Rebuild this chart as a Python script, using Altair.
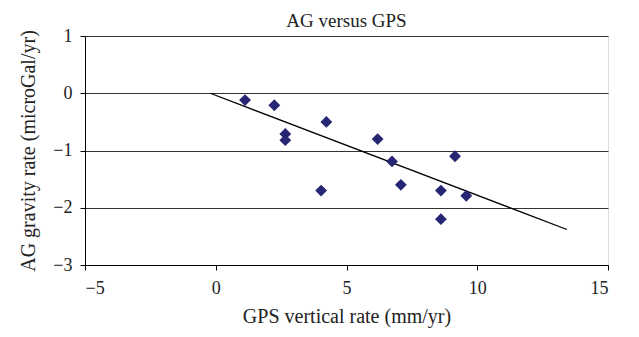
import altair as alt
import pandas as pd

gps_rate = [1.12, 2.24, 2.66, 2.66, 4.23, 4.03, 6.19, 6.74, 7.08, 8.61, 9.15, 9.58, 8.61]
ag_rate = [-0.12, -0.21, -0.71, -0.82, -0.5, -1.7, -0.8, -1.19, -1.6, -1.7, -1.1, -1.79, -2.2]
fit_x = [-0.21, 13.43]
fit_y = [0.0, -2.38]
x_ticks = [-5, 0, 5, 10, 15]
y_ticks = [-3, -2, -1, 0, 1]

pts = pd.DataFrame({"gps": gps_rate, "ag": ag_rate})
fit = pd.DataFrame({"gps": fit_x, "ag": fit_y})

FONT = "Liberation Serif"
xs = alt.Scale(domain=[-5, 15], nice=False, zero=False)
ys = alt.Scale(domain=[-3, 1], nice=False, zero=False)

x_axis = alt.Axis(values=x_ticks, format="d", title="GPS vertical rate (mm/yr)", grid=False,
                  tickSize=5, tickColor="black", domainColor="black",
                  labelFont=FONT, labelFontSize=18, labelColor="#222",
                  labelPadding=9, titleFont=FONT, titleFontSize=20,
                  titleFontWeight="normal", titleColor="#222", titlePadding=9)
y_axis = alt.Axis(values=y_ticks, format="d", title="AG gravity rate (microGal/yr)", grid=True,
                  gridColor="#333", gridWidth=1, tickSize=5, tickColor="black",
                  domainColor="black", labelFont=FONT, labelFontSize=18,
                  labelColor="#222", labelPadding=8, titleFont=FONT,
                  titleFontSize=20, titleFontWeight="normal", titleColor="#222",
                  titlePadding=14)

points = alt.Chart(pts).mark_point(shape="diamond", filled=True, size=140,
                                   color="#262673", opacity=1).encode(
    x=alt.X("gps:Q", scale=xs, axis=x_axis),
    y=alt.Y("ag:Q", scale=ys, axis=y_axis),
)
line = alt.Chart(fit).mark_line(color="black", strokeWidth=1.3).encode(
    x=alt.X("gps:Q", scale=xs),
    y=alt.Y("ag:Q", scale=ys),
)

chart = alt.layer(line, points).properties(
    width=523, height=229,
    title=alt.TitleParams("AG versus GPS", font=FONT, fontSize=19,
                          fontWeight="normal", color="#222", offset=-4),
    autosize=alt.AutoSizeParams(type="none"),
    padding={"left": 77, "top": 28, "right": 23, "bottom": 64},
).configure_view(stroke="black", strokeWidth=1.2).configure(background="white")

chart.save("out.html", embed_options={"renderer": "svg", "actions": False})
